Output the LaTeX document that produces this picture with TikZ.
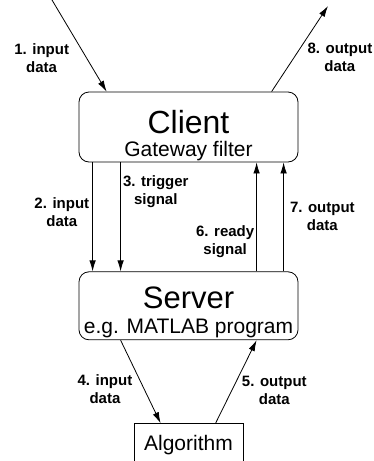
\documentclass[tikz,border=0pt]{standalone}
\usepackage{fontspec}
\setmainfont{Liberation Sans}
\usetikzlibrary{arrows.meta,positioning}

\begin{document}
\begin{tikzpicture}[x=1pt,y=1pt,->,>={Latex[length=11pt,width=6.5pt]},line width=0.8pt,
                    block/.style={draw,rounded corners=10pt,minimum width=219pt,inner ysep=0pt,align=center},
                    box/.style={draw,minimum width=109pt,minimum height=42pt,
                                font=\fontsize{21}{22}\selectfont},
                    lbl/.style={font=\bfseries\fontsize{15}{18}\selectfont,align=center,inner sep=2pt}]
  \useasboundingbox (0,0) rectangle (374,-461);

  \node[block,minimum height=70pt] (client) at (188.5,-127)
    {{\fontsize{32}{34}\selectfont\rule{0pt}{40pt}Client}\\[6pt]{\fontsize{21}{22}\selectfont Gateway filter}};
  \node[block,minimum height=68pt] (server) [below=109pt of client]
    {{\fontsize{31}{33}\selectfont\rule{0pt}{35pt}Server}\\[9pt]{\fontsize{21}{22}\selectfont e.g. MATLAB program}};
  \node[box] (alg) [below=83pt of server] {Algorithm};

  \coordinate (in1) at (52,0);
  \coordinate (out8) at (328,-6);

  \path (in1) edge node[lbl,left=15pt,pos=.63] {1. input\\data} ([xshift=28pt]client.north west)
        ([xshift=193pt]client.north west) edge node[lbl,right=11pt,pos=.4] {8. output\\data} (out8)
        ([xshift=14pt]client.south west) edge node[lbl,left=1pt,pos=.46] {2. input\\data}
                                              ([xshift=14pt]server.north west)
        ([xshift=42pt]client.south west) edge node[lbl,right=0pt,pos=.27] {3. trigger\\signal}
                                              ([xshift=42pt]server.north west)
        ([xshift=178pt]server.north west) edge node[lbl,left=0pt,pos=.27] {6. ready\\signal}
                                              ([xshift=178pt]client.south west)
        ([xshift=205pt]server.north west) edge node[lbl,right=4pt,pos=.5] {7. output\\data}
                                              ([xshift=205pt]client.south west)
        ([xshift=42pt]server.south west) edge node[lbl,left=9.5pt,pos=.59] {4. input\\data}
                                              ([xshift=27pt]alg.north west)
        ([xshift=82pt]alg.north west) edge node[lbl,right=8pt,pos=.39] {5. output\\data}
                                              ([xshift=178pt]server.south west);
\end{tikzpicture}
\end{document}
